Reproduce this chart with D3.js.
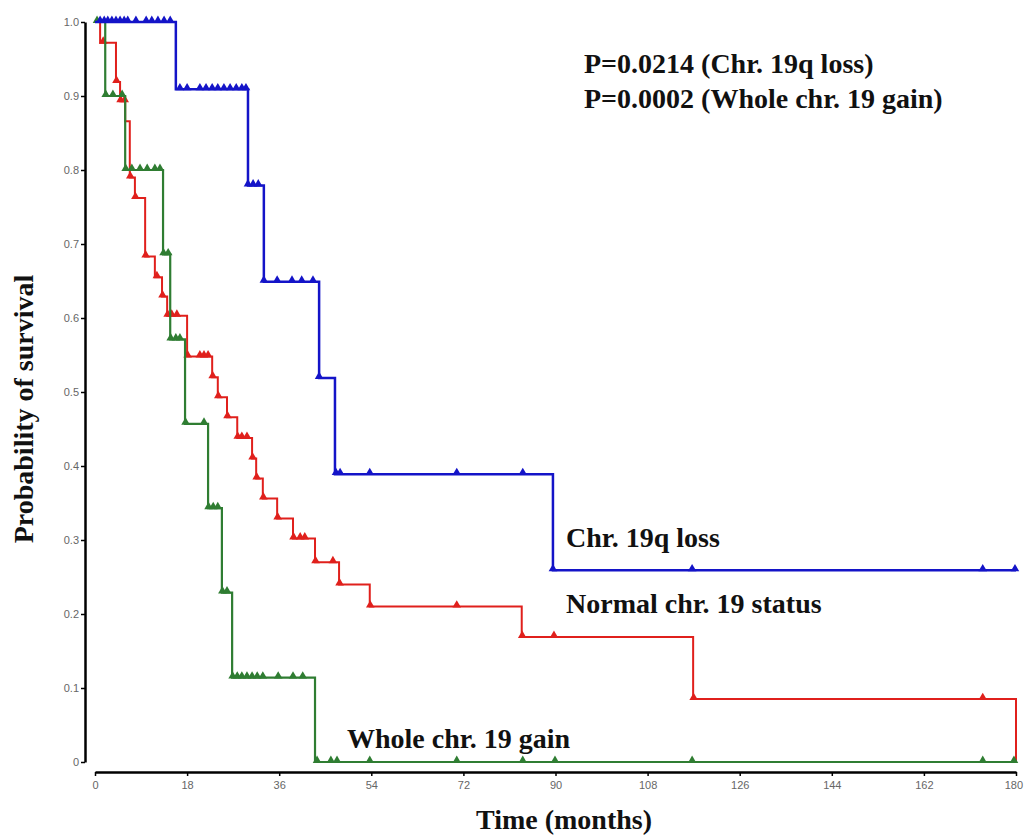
<!DOCTYPE html>
<html>
<head>
<meta charset="utf-8">
<script src="https://cdn.jsdelivr.net/npm/d3@7"></script>
<style>
  body { margin: 0; background: #fff; }
  svg { display: block; }
</style>
</head>
<body>
<svg></svg>
<script>
let width = 1024;
let height = 837;

// step curves: time (months) at which each survival level starts
let lossTimes = [0, 15.8, 29.9, 33.0, 43.8, 46.9, 89.5, 180];
let lossSurv  = [1, 0.909, 0.779, 0.649, 0.519, 0.389, 0.259, 0.259];
let lossCens  = [1.0, 1.8, 2.5, 3.3, 4.1, 4.9, 5.7, 6.4, 8.0, 10.0, 11.1, 12.3, 13.5, 14.7,
                 16.6, 18.0, 20.5, 21.7, 22.9, 24.0, 25.2, 26.4, 27.6, 28.7, 29.5,
                 29.9, 30.9, 31.9, 33.0, 35.6, 38.5, 40.4, 42.6, 43.8,
                 47.1, 47.9, 53.7, 70.7, 83.6, 89.5, 116.7, 173.5, 179.8];

let normTimes = [0, 1.0, 4.1, 4.9, 5.9, 6.8, 7.8, 9.8, 11.7, 13.1, 14.1, 18.0, 22.9, 24.0,
                 25.8, 27.8, 30.7, 31.5, 32.8, 35.6, 38.7, 43.0, 47.7, 53.7, 83.4, 116.9, 180];
let normSurv  = [1, 0.972, 0.919, 0.893, 0.866, 0.79, 0.762, 0.683, 0.655, 0.629, 0.603, 0.548,
                 0.52, 0.493, 0.466, 0.438, 0.41, 0.383, 0.356, 0.329, 0.302, 0.27, 0.24,
                 0.21, 0.169, 0.085, 0];
let normCens  = [1.6, 4.2, 5.0, 5.8, 6.9, 7.9, 9.9, 12.1, 13.2, 14.2, 15.0, 16.0,
                 18.1, 20.5, 21.3, 22.1, 23.0, 24.1, 25.9, 27.9, 28.7, 29.7, 30.8, 31.6,
                 32.9, 35.7, 38.8, 40.1, 41.0, 43.1, 46.5, 47.8, 53.8, 70.7, 83.5, 89.7,
                 117.0, 173.5];

let gainTimes = [0, 2.0, 5.9, 13.3, 14.7, 17.6, 22.1, 24.8, 26.8, 43.0, 180];
let gainSurv  = [1, 0.9, 0.8, 0.686, 0.571, 0.457, 0.343, 0.229, 0.114, 0, 0];
let gainCens  = [0.4, 2.1, 3.5, 5.3, 6.0, 7.2, 8.8, 10.2, 11.7, 12.7, 13.4, 14.3,
                 14.8, 15.8, 16.6, 17.7, 21.3, 22.2, 23.1, 24.0, 24.9, 25.8,
                 26.9, 27.8, 28.7, 29.7, 30.7, 31.7, 32.8, 35.8, 38.7, 40.6,
                 43.4, 46.1, 47.3, 53.7, 70.7, 83.6, 89.9, 116.7, 173.5, 179.6];

let xTicks = [0, 18, 36, 54, 72, 90, 108, 126, 144, 162, 180];
let yTicks = [0, 0.1, 0.2, 0.3, 0.4, 0.5, 0.6, 0.7, 0.8, 0.9, 1.0];
let yTickLabels = ['0', '0.1', '0.2', '0.3', '0.4', '0.5', '0.6', '0.7', '0.8', '0.9', '1.0'];

let series = [
    {times: normTimes, surv: normSurv, cens: normCens, color: '#e0201c', w: 2},
    {times: gainTimes, surv: gainSurv, cens: gainCens, color: '#2f7d32', w: 2.2},
    {times: lossTimes, surv: lossSurv, cens: lossCens, color: '#1414c8', w: 2.5}
];

let xScale = d3.scaleLinear()
                .domain([0, 180])
                .range([95, 1016]);

let yScale = d3.scaleLinear()
                .domain([0, 1])
                .range([762, 22]);

let svg = d3.select('svg')
    .attr('width', width)
    .attr('height', height);

let yAxis = d3.axisLeft(yScale)
                .tickValues(yTicks)
                .tickFormat((d, i) => yTickLabels[i])
                .tickSize(4)
                .tickSizeOuter(0)
                .tickPadding(2);

let xAxis = d3.axisBottom(xScale)
                .tickValues(xTicks)
                .tickSize(4)
                .tickSizeOuter(0)
                .tickPadding(5);

let gy = svg.append('g')
    .attr('transform', 'translate(85, 0)')
    .call(yAxis);

let gx = svg.append('g')
    .attr('transform', 'translate(0, 772)')
    .call(xAxis);

[gx, gy].forEach(g => {
    g.select('.domain').attr('stroke', '#000').attr('stroke-width', 2.5);
    g.selectAll('.tick line').attr('stroke', '#000').attr('stroke-width', 1.5);
    g.selectAll('.tick text')
        .attr('fill', '#666')
        .style('font-family', 'Arial, "Liberation Sans", sans-serif')
        .style('font-size', '11px');
});

// keep the last x label inside the picture
gx.selectAll('.tick text')
    .filter(d => d === 180)
    .style('text-anchor', 'end')
    .attr('dx', '0.6em');

// value of a step curve at time t
function stepAt(s, t) {
    let i = d3.bisectRight(s.times, t) - 1;
    return s.surv[Math.max(0, i)];
}

let line = d3.line()
    .x(d => xScale(d[0]))
    .y(d => yScale(d[1]))
    .curve(d3.curveStepAfter);

let tri = d3.symbol().type(d3.symbolTriangle).size(32);

series.forEach(s => {
    let pts = s.times.map((t, i) => [t, s.surv[i]]);
    svg.append('path')
        .datum(pts)
        .attr('d', line)
        .attr('fill', 'none')
        .attr('stroke', s.color)
        .attr('stroke-width', s.w);

    svg.append('g')
        .selectAll('path')
        .data(s.cens)
        .enter()
        .append('path')
            .attr('d', tri)
            .attr('transform', d => `translate(${xScale(d)}, ${yScale(stepAt(s, d)) - 1.5})`)
            .attr('fill', s.color);
});

let serif = '"Liberation Serif", "Times New Roman", serif';

function label(x, y, txt, size) {
    svg.append('text')
        .attr('x', x)
        .attr('y', y)
        .style('font-family', serif)
        .style('font-weight', 'bold')
        .style('font-size', size + 'px')
        .attr('fill', '#111')
        .text(txt);
}

label(584, 73, 'P=0.0214 (Chr. 19q loss)', 28);
label(584, 108, 'P=0.0002 (Whole chr. 19 gain)', 28);
label(566, 547, 'Chr. 19q loss', 28);
label(566, 613, 'Normal chr. 19 status', 28);
label(347, 748, 'Whole chr. 19 gain', 28);

svg.append('text')
    .attr('x', 564)
    .attr('y', 829)
    .style('text-anchor', 'middle')
    .style('font-family', serif)
    .style('font-weight', 'bold')
    .style('font-size', '28px')
    .attr('fill', '#111')
    .text('Time (months)');

svg.append('text')
    .attr('transform', 'rotate(-90)')
    .attr('x', -409)
    .attr('y', 33)
    .style('text-anchor', 'middle')
    .style('font-family', serif)
    .style('font-weight', 'bold')
    .style('font-size', '28px')
    .attr('fill', '#111')
    .text('Probability of survival');
</script>
</body>
</html>
